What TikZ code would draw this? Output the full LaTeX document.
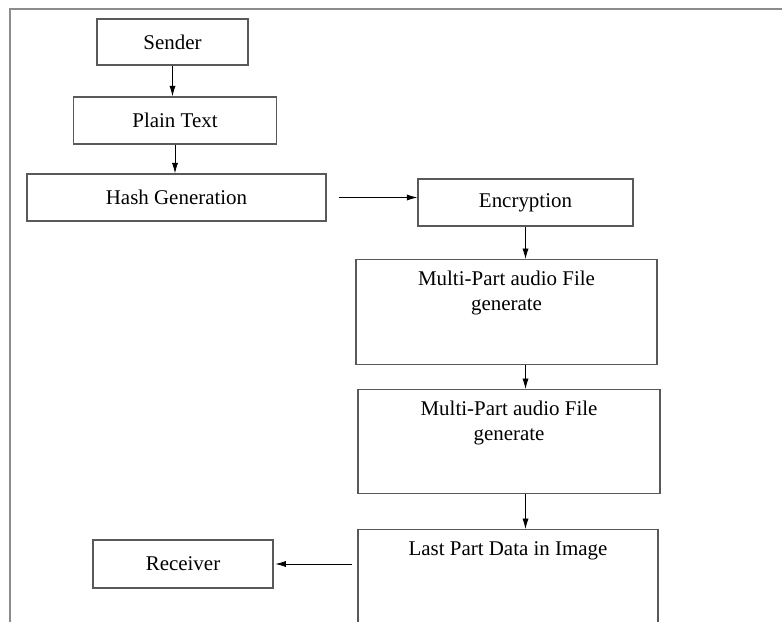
\documentclass[tikz,border=0pt]{standalone}
\usepackage{fontspec}
\setmainfont{Liberation Serif}
\usetikzlibrary{arrows.meta, positioning}
\newcommand{\pxu}{0.573pt}

\begin{document}
\begin{tikzpicture}[x=\pxu, y=-\pxu, >={Latex[length=6pt, width=3.5pt]},
    box/.style={draw=black!65, line width=0.8pt, rectangle, font=\fontsize{12}{14}\selectfont},
    tallbox/.style={box, anchor=north, align=center, inner ysep=6pt}]
        \path[use as bounding box, clip] (0,0) rectangle (782,622);
        % outer frame of the figure
        \coordinate (fbl) at (10,622);
        \coordinate (ftl) at (10,9);
        \coordinate (ftr) at (782,9);
        \draw[black!45, line width=0.8pt] (fbl) -- (ftl) -- (ftr);

        % sender side
        \node[box, minimum width=151*\pxu, minimum height=46*\pxu] (sender) at (172.5,42) {Sender};
        \node[box, minimum width=203*\pxu, minimum height=47*\pxu] (plain) at (175,120.5) {Plain Text};
        \node[box, minimum width=299*\pxu, minimum height=47*\pxu] (hash) at (176.5,197.5) {Hash Generation};
        \node[box, minimum width=215*\pxu, minimum height=47*\pxu] (enc) at (525.5,202.5) {Encryption};
        \node[tallbox, minimum width=301*\pxu, text height=23pt, text depth=25pt] (mp1) at (506.5,259) {Multi-Part audio File\\generate};
        \node[tallbox, minimum width=302*\pxu, text height=23pt, text depth=24.5pt] (mp2) at (509,389) {Multi-Part audio File\\generate};
        \node[tallbox, minimum width=300*\pxu, text height=9pt, text depth=56pt] (last) at (508,529) {Last Part Data in Image};
        \node[box, minimum width=180*\pxu, minimum height=48*\pxu] (recv) at (183,564) {Receiver};

        \draw[->] (sender.south) -- (sender.south |- plain.north);
        \draw[->] (plain.south) -- (plain.south |- hash.north);
        \draw[->, shorten <=12*\pxu] (hash.east) -- (hash.east -| enc.west);
        \draw[->] (enc.south) -- (enc.south |- mp1.north);
        \draw[->] (enc.south |- mp1.south) -- (enc.south |- mp2.north);
        \draw[->] (enc.south |- mp2.south) -- (enc.south |- last.north);
        \draw[->, shorten <=5*\pxu, shorten >=1pt] (recv.east -| last.west) -- (recv.east);
    \end{tikzpicture}
\end{document}
